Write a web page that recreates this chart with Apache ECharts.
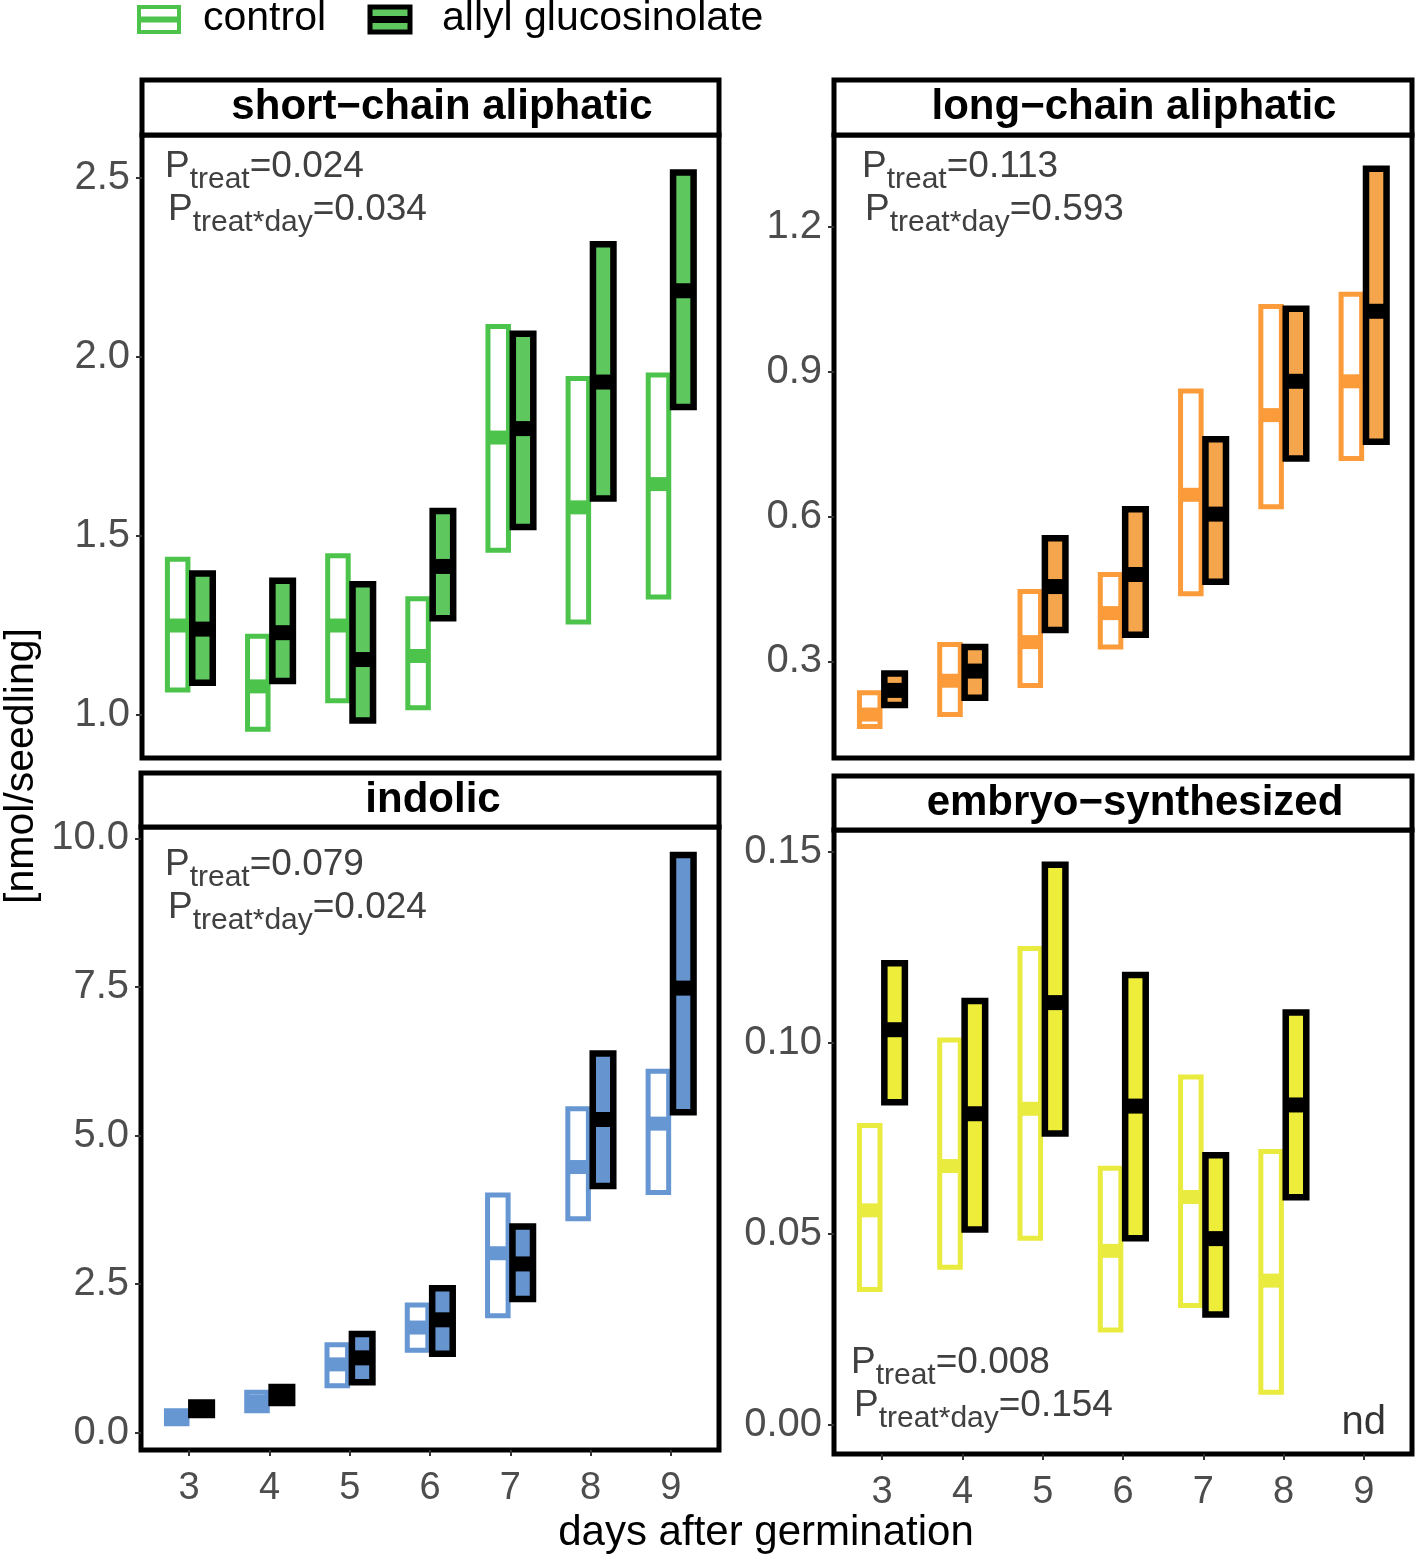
<!DOCTYPE html>
<html>
<head>
<meta charset="utf-8">
<script src="https://cdn.jsdelivr.net/npm/echarts@6/dist/echarts.min.js"></script>
<style>
  html, body { margin: 0; padding: 0; background: #fff; }
  #chart { width: 1417px; height: 1558px; }
</style>
</head>
<body>
<div id="chart"></div>
<script>
const days = [3, 4, 5, 6, 7, 8, 9];

// short-chain aliphatic
const shortCtrlLo  = [1.07, 0.96, 1.04, 1.02, 1.46, 1.26, 1.33];
const shortCtrlMed = [1.25, 1.08, 1.25, 1.165, 1.775, 1.58, 1.645];
const shortCtrlHi  = [1.435, 1.22, 1.445, 1.325, 2.085, 1.94, 1.95];
const shortTrtLo   = [1.09, 1.095, 0.985, 1.27, 1.525, 1.605, 1.86];
const shortTrtMed  = [1.24, 1.23, 1.155, 1.415, 1.80, 1.93, 2.185];
const shortTrtHi   = [1.395, 1.375, 1.365, 1.57, 2.065, 2.315, 2.515];

// long-chain aliphatic
const longCtrlLo  = [0.165, 0.19, 0.25, 0.33, 0.44, 0.62, 0.72];
const longCtrlMed = [0.19, 0.26, 0.34, 0.40, 0.645, 0.81, 0.88];
const longCtrlHi  = [0.235, 0.335, 0.445, 0.48, 0.86, 1.035, 1.06];
const longTrtLo   = [0.21, 0.225, 0.365, 0.355, 0.465, 0.72, 0.755];
const longTrtMed  = [0.24, 0.28, 0.455, 0.48, 0.605, 0.88, 1.025];
const longTrtHi   = [0.275, 0.33, 0.555, 0.615, 0.76, 1.03, 1.32];

// indolic
const indCtrlLo  = [0.15, 0.37, 0.79, 1.39, 1.97, 3.6, 4.04];
const indCtrlMed = [0.26, 0.52, 1.15, 1.77, 3.02, 4.47, 5.20];
const indCtrlHi  = [0.37, 0.68, 1.48, 2.15, 4.0, 5.45, 6.08];
const indTrtLo   = [0.30, 0.50, 0.85, 1.33, 2.25, 4.15, 5.39];
const indTrtMed  = [0.40, 0.63, 1.26, 1.90, 2.84, 5.27, 7.48];
const indTrtHi   = [0.51, 0.77, 1.66, 2.43, 3.47, 6.38, 9.72];

// embryo-synthesized (day 9 not detected)
const embDays    = [3, 4, 5, 6, 7, 8];
const embCtrlLo  = [0.0355, 0.0413, 0.0489, 0.0249, 0.0313, 0.0086];
const embCtrlMed = [0.0562, 0.0678, 0.0828, 0.0456, 0.0597, 0.0378];
const embCtrlHi  = [0.0784, 0.1008, 0.1248, 0.0672, 0.0911, 0.0716];
const embTrtLo   = [0.0845, 0.0512, 0.0763, 0.0489, 0.0289, 0.0596];
const embTrtMed  = [0.1035, 0.0815, 0.1106, 0.0835, 0.0488, 0.0838];
const embTrtHi   = [0.1209, 0.111, 0.1467, 0.1178, 0.0706, 0.108];

const shortTicks = [1.0, 1.5, 2.0, 2.5];
const longTicks = [0.3, 0.6, 0.9, 1.2];
const indTicks = [0, 2.5, 5, 7.5, 10];
const embTicks = [0, 0.05, 0.10, 0.15];

const FONT = 'Liberation Sans, Arial, sans-serif';
const LABEL_GREY = '#4d4d4d';

const chart = echarts.init(document.getElementById('chart'));

function rows(xs, lo, med, hi) {
  return xs.map((d, i) => [d, lo[i], med[i], hi[i]]);
}

// crossbar: box from lo to hi with a fat median line
function crossbar(offset, fill, stroke, lw, medColor, medW) {
  return function (params, api) {
    const d = api.value(0);
    const unit = api.size([1, 0])[0];
    const m = api.coord([d, api.value(2)]);
    const cx = m[0] + offset * unit;
    const half = 0.128 * unit;
    const yHi = api.coord([d, api.value(3)])[1];
    const yLo = api.coord([d, api.value(1)])[1];
    return {
      type: 'group',
      children: [
        { type: 'rect', shape: { x: cx - half, y: yHi, width: 2 * half, height: yLo - yHi },
          style: { fill: fill, stroke: stroke, lineWidth: lw } },
        { type: 'line', shape: { x1: cx - half, y1: m[1], x2: cx + half, y2: m[1] },
          style: { stroke: medColor, lineWidth: medW, lineCap: 'butt' } }
      ]
    };
  };
}

function ctrlSeries(idx, data, color) {
  return { type: 'custom', xAxisIndex: idx, yAxisIndex: idx, data: data,
    encode: { x: 0, y: [1, 2, 3] }, silent: true,
    renderItem: crossbar(-0.155, '#fff', color, 5, color, 14) };
}
function trtSeries(idx, data, color) {
  return { type: 'custom', xAxisIndex: idx, yAxisIndex: idx, data: data,
    encode: { x: 0, y: [1, 2, 3] }, silent: true,
    renderItem: crossbar(0.155, color, '#000', 6.5, '#000', 15) };
}

const panels = [
  { left: 142, right: 1417 - 719, top: 135, height: 758 - 135, min: 0.88, max: 2.62, ticks: shortTicks, dec: 1, showX: false },
  { left: 834, right: 1417 - 1412, top: 135, height: 758 - 135, min: 0.10, max: 1.39, ticks: longTicks, dec: 1, showX: false },
  { left: 141, right: 1417 - 719, top: 827, height: 1450 - 827, min: -0.29, max: 10.19, ticks: indTicks, dec: 1, showX: true },
  { left: 834, right: 1417 - 1412, top: 830, height: 1454 - 830, min: -0.0076, max: 0.1558, ticks: embTicks, dec: 2, showX: true }
];

const grids = panels.map(p => ({
  left: p.left, right: p.right, top: p.top, height: p.height,
  show: true, borderColor: '#000', borderWidth: 5, backgroundColor: '#fff', containLabel: false
}));

const xAxes = panels.map((p, i) => ({
  type: 'value', gridIndex: i, min: 2.4, max: 9.6, position: 'bottom',
  axisLine: { show: false, onZero: false }, splitLine: { show: false },
  axisTick: { show: p.showX, customValues: days, length: 6, lineStyle: { color: '#333', width: 2 } },
  axisLabel: { show: p.showX, customValues: days, margin: 20, fontSize: 38, color: LABEL_GREY, fontFamily: FONT }
}));

const yAxes = panels.map((p, i) => ({
  type: 'value', gridIndex: i, min: p.min, max: p.max, position: 'left',
  axisLine: { show: false, onZero: false }, splitLine: { show: false },
  axisTick: { show: true, customValues: p.ticks, length: 6, lineStyle: { color: '#333', width: 2 } },
  axisLabel: { customValues: p.ticks, margin: 12, fontSize: 40, color: LABEL_GREY, fontFamily: FONT,
    formatter: v => Number(v).toFixed(p.dec) }
}));

const GREEN = '#4cc44c', GREEN_F = '#5ec75e';
const ORANGE = '#fb9b3a', ORANGE_F = '#f5a64c';
const BLUE = '#6797d3', BLUE_F = '#6594cf';
const YELLOW = '#e9eb3e', YELLOW_F = '#eeee3a';

const series = [
  ctrlSeries(0, rows(days, shortCtrlLo, shortCtrlMed, shortCtrlHi), GREEN),
  trtSeries(0, rows(days, shortTrtLo, shortTrtMed, shortTrtHi), GREEN_F),
  ctrlSeries(1, rows(days, longCtrlLo, longCtrlMed, longCtrlHi), ORANGE),
  trtSeries(1, rows(days, longTrtLo, longTrtMed, longTrtHi), ORANGE_F),
  ctrlSeries(2, rows(days, indCtrlLo, indCtrlMed, indCtrlHi), BLUE),
  trtSeries(2, rows(days, indTrtLo, indTrtMed, indTrtHi), BLUE_F),
  ctrlSeries(3, rows(embDays, embCtrlLo, embCtrlMed, embCtrlHi), YELLOW),
  trtSeries(3, rows(embDays, embTrtLo, embTrtMed, embTrtHi), YELLOW_F),
  { type: 'scatter', xAxisIndex: 3, yAxisIndex: 3, data: [[9, 0.0004]], symbolSize: 0, silent: true,
    label: { show: true, position: 'inside', formatter: 'nd', fontSize: 40, color: '#000', fontFamily: FONT } }
];

// strip headers
function strip(x1, x2, y1, y2, text, cx) {
  return {
    type: 'group', children: [
      { type: 'rect', shape: { x: x1, y: y1, width: x2 - x1, height: y2 - y1 },
        style: { fill: '#fff', stroke: '#000', lineWidth: 5 } },
      { type: 'text', x: cx, y: (y1 + y2) / 2,
        style: { text: text, fill: '#000', font: 'bold 42px ' + FONT, align: 'center', verticalAlign: 'middle' } }
    ]
  };
}

// P-value annotations
function pLine(x, y, sub, val) {
  return {
    type: 'text', x: x, y: y,
    style: {
      text: '{p|P}{s|' + sub + '}{v|=' + val + '}',
      verticalAlign: 'top',
      rich: {
        p: { fontSize: 37, lineHeight: 37, fontFamily: FONT, fill: '#404040', verticalAlign: 'top' },
        s: { fontSize: 30, lineHeight: 30, padding: [17, 0, 0, 0], fontFamily: FONT, fill: '#404040', verticalAlign: 'top' },
        v: { fontSize: 37, lineHeight: 37, fontFamily: FONT, fill: '#404040', verticalAlign: 'top' }
      }
    }
  };
}

const annotations = [
  ['short', 165, 148, '0.024', '0.034'],
  ['long', 862, 148, '0.113', '0.593'],
  ['ind', 165, 846, '0.079', '0.024'],
  ['emb', 851, 1344, '0.008', '0.154']
];

const graphics = [
  strip(142, 719, 80, 135, 'short\u2212chain aliphatic', 442),
  strip(834, 1412, 80, 135, 'long\u2212chain aliphatic', 1134),
  strip(141, 719, 773, 827, 'indolic', 433),
  strip(834, 1412, 776, 830, 'embryo\u2212synthesized', 1135)
];
annotations.forEach(a => {
  graphics.push(pLine(a[1], a[2], 'treat', a[3]));
  graphics.push(pLine(a[1] + 3, a[2] + 43, 'treat*day', a[4]));
});

// legend
graphics.push(
  { type: 'rect', shape: { x: 139, y: 7, width: 40, height: 25 }, style: { fill: '#fff', stroke: GREEN, lineWidth: 4 } },
  { type: 'line', shape: { x1: 139, y1: 19.5, x2: 179, y2: 19.5 }, style: { stroke: GREEN, lineWidth: 6 } },
  { type: 'text', x: 203, y: 19, style: { text: 'control', font: '41px ' + FONT, fill: '#000', verticalAlign: 'middle' } },
  { type: 'rect', shape: { x: 370, y: 7, width: 40, height: 25 }, style: { fill: GREEN_F, stroke: '#000', lineWidth: 5 } },
  { type: 'line', shape: { x1: 370, y1: 19.5, x2: 410, y2: 19.5 }, style: { stroke: '#000', lineWidth: 7 } },
  { type: 'text', x: 442, y: 19, style: { text: 'allyl glucosinolate', font: '41px ' + FONT, fill: '#000', verticalAlign: 'middle' } },
  // axis titles
  { type: 'text', x: 766, y: 1533, style: { text: 'days after germination', font: '42px ' + FONT, fill: '#000', align: 'center', verticalAlign: 'middle' } },
  { type: 'text', x: 22, y: 766, rotation: Math.PI / 2, style: { text: '[nmol/seedling]', font: '41px ' + FONT, fill: '#000', align: 'center', verticalAlign: 'middle' } }
);

chart.setOption({
  animation: false,
  backgroundColor: '#fff',
  textStyle: { fontFamily: FONT },
  grid: grids,
  xAxis: xAxes,
  yAxis: yAxes,
  series: series,
  graphic: graphics
});
</script>
</body>
</html>
